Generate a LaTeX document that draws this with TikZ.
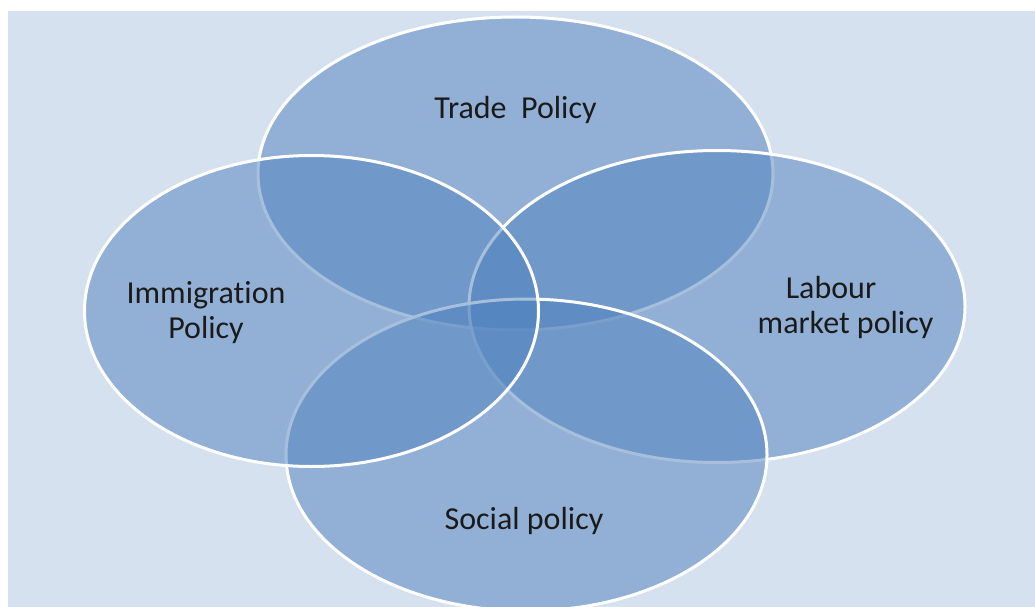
\documentclass[tikz,border=0pt]{standalone}
\usepackage{fontspec}
\setmainfont[Ligatures={NoCommon}]{Carlito}
\definecolor{bgc}{HTML}{D6E1EF}
\definecolor{ellc}{HTML}{4F81BD}
\definecolor{txt}{HTML}{1A1A1A}
\tikzset{
  circ/.style={fill=ellc, fill opacity=0.5, draw=white, draw opacity=1, line width=3pt},
  lbl/.style={text=txt, font=\fontsize{32}{35}\selectfont, align=center, inner sep=0pt}
}
\begin{document}
\begin{tikzpicture}[x=1pt,y=-1pt]
\useasboundingbox (0,0) rectangle (1035,607);
\clip (0,0) rectangle (1035,607);
\fill[white] (0,0) rectangle (1035,607);
\fill[bgc] (8,11) rectangle (1035,607);
% ellipses: Trade, Labour, Social, Immigration
\path[circ] (515.5,173.5) ellipse [x radius=257.5, y radius=156.5];
\path[circ] (717,306.5) ellipse [x radius=248, y radius=156];
\path[circ] (526.5,455) ellipse [x radius=240.5, y radius=156];
\path[circ] (311.5,311) ellipse [x radius=227, y radius=155.5];
% labels
\node[lbl, anchor=base] (trade) at (515.5,118) {Trade\ \ Policy};
\node[lbl, anchor=base] (immig1) at (206,303) {Immigration};
\node[lbl, anchor=base] (immig2) at (206,338) {Policy};
\node[lbl, anchor=base] (labour1) at (831,298) {Labour};
\node[lbl, anchor=base] (labour2) at (845.5,333) {market policy};
\node[lbl, anchor=base] (social) at (524,529) {Social policy};
\end{tikzpicture}
\end{document}
